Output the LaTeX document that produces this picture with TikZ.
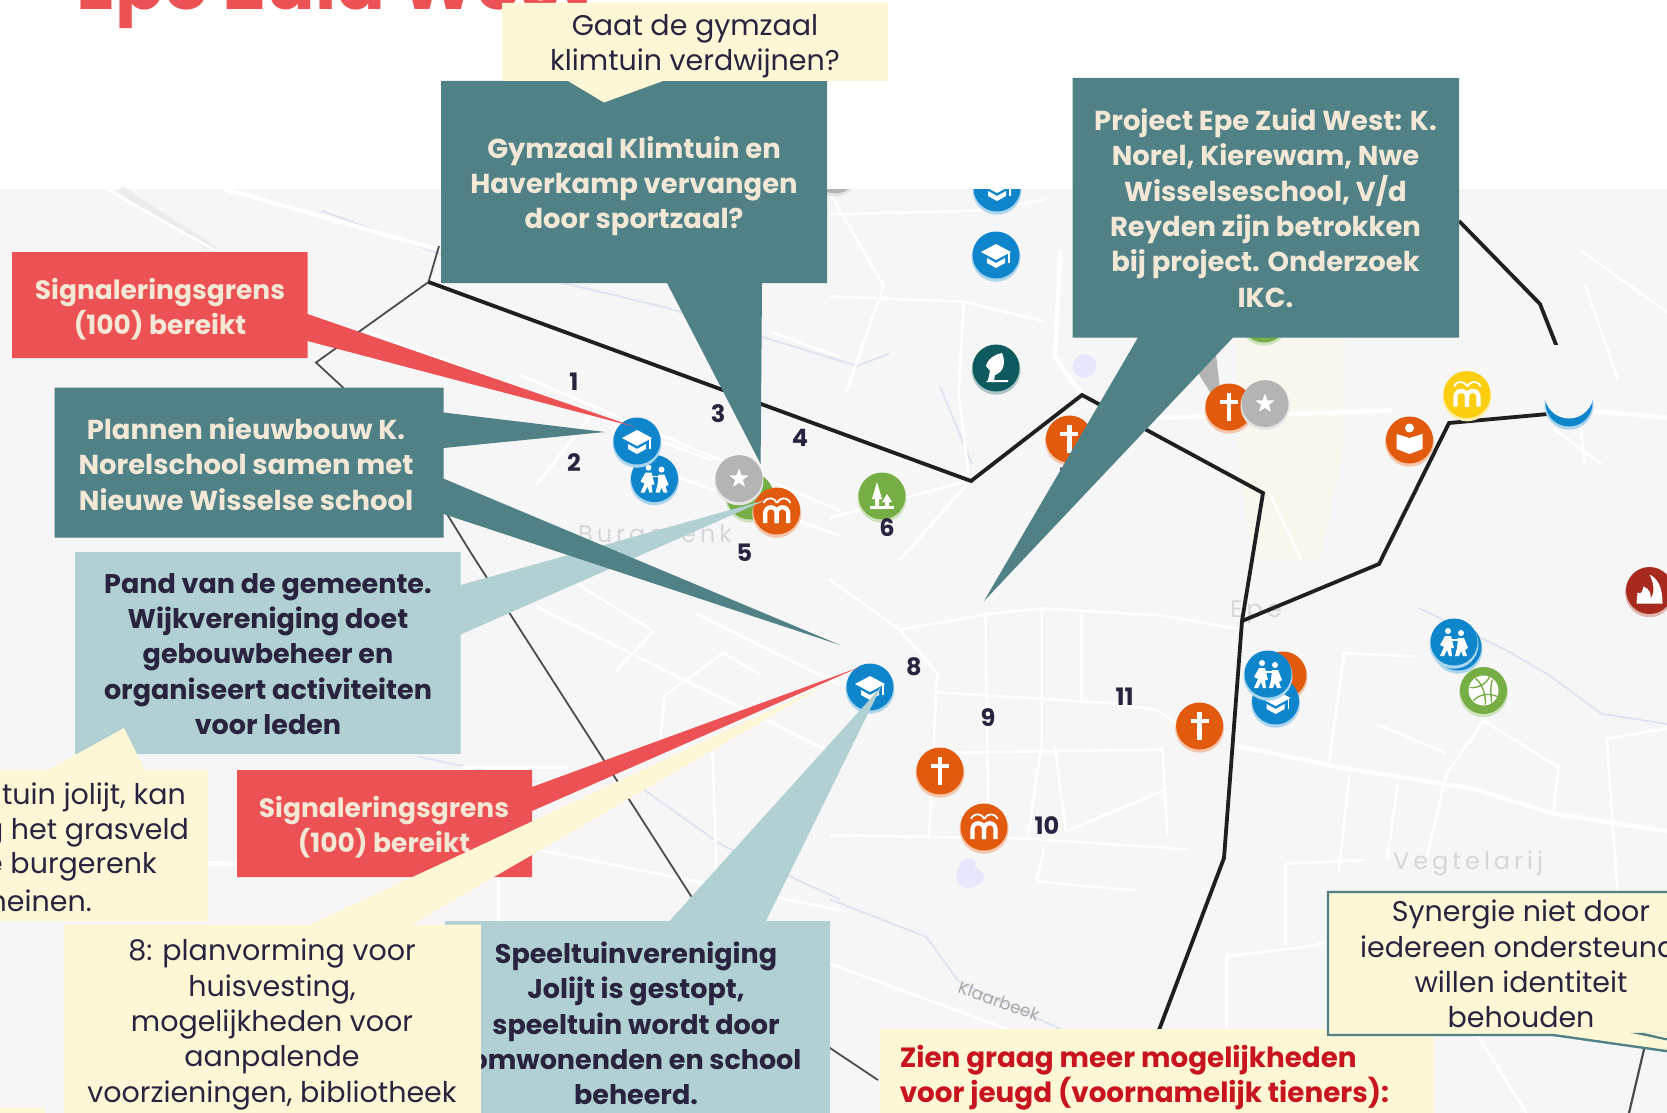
\documentclass[tikz,border=0pt]{standalone}
\usepackage{fontspec}
\setmainfont{Poppins}
\usetikzlibrary{shapes.geometric}
\definecolor{teal}{HTML}{4F8187}
\definecolor{ltteal}{HTML}{B1D0D3}
\definecolor{redbox}{HTML}{EC5254}
\definecolor{ylw}{HTML}{FDF7D6}
\definecolor{ink}{HTML}{2A2340}
\definecolor{cream}{HTML}{F3E8D6}
\definecolor{mapbg}{HTML}{F6F6F6}
\definecolor{icblue}{HTML}{0F85CC}
\definecolor{icorange}{HTML}{E25A0E}
\definecolor{icgray}{HTML}{B4B4B4}
\definecolor{icgreen}{HTML}{76AE45}
\definecolor{icdark}{HTML}{0F5A5E}
\definecolor{icyellow}{HTML}{FBCF10}
\definecolor{icred}{HTML}{A82A1E}
\definecolor{wat}{HTML}{DDE3F2}
\tikzset{
 Za/.style={shift={(0,0)},x=0.5357pt,y=-0.3571pt},
 Zb/.style={shift={(830,0)},x=0.5357pt,y=-0.3571pt},
 Zc/.style={shift={(0,553)},x=0.5357pt,y=-0.3571pt},
 Zd/.style={shift={(830,553)},x=0.5357pt,y=-0.3571pt},
 road/.style={draw=white,line width=2.6pt,line join=round},
 bigroad/.style={draw=white,line width=4.5pt,line join=round},
 water/.style={draw=wat,line width=1.8pt,line join=round},
 border/.style={draw=black!88,line width=3.8pt,line join=miter},
 thinb/.style={draw=black!70,line width=1.8pt,line join=miter},
 tealtxt/.style={text=cream,font=\fontsize{27.4}{35.3}\selectfont\bfseries,align=center,inner sep=0pt},
 redtxt/.style={text=cream,font=\fontsize{26.5}{35.3}\selectfont\bfseries,align=center,inner sep=0pt},
 darktxt/.style={text=ink,font=\fontsize{27}{35.3}\selectfont\bfseries,align=center,inner sep=0pt},
 plaintxt/.style={text=ink,font=\fontsize{28.5}{35.3}\selectfont,align=center,inner sep=0pt},
 num/.style={text=ink,font=\fontsize{24}{28}\selectfont\bfseries,inner sep=0pt},
 maplbl/.style={text=black!16,font=\fontsize{24}{28}\selectfont,inner sep=0pt},
}
\newcommand{\disc}[4]{% name,color,x,y
 \fill[#2!35!white] (#3,#4+2.2) circle (24.5);
 \node[circle,fill=#2,minimum size=47pt,inner sep=0pt,draw=none] (#1) at (#3,#4) {};}
\newcommand{\gcross}[2]{\begin{scope}[shift={(#1,#2)}]
 \fill[white] (-2.4,-14)rectangle(2.4,14); \fill[white] (-9,-7)rectangle(9,-2.6);\end{scope}}
\newcommand{\gstar}[2]{\node[star,star points=5,star point ratio=2.4,fill=white,minimum size=20pt,inner sep=0pt] at (#1,#2) {};}
\newcommand{\gcap}[2]{\begin{scope}[shift={(#1,#2)}]
 \fill[white] (-15,-3)--(0,-11)--(15,-3)--(0,5)--cycle;
 \fill[white] (-9,3)--(0,8)--(9,3)--(9,8)--(0,13)--(-9,8)--cycle;
 \draw[white,line width=1.2pt] (13,-2)--(13,8);\end{scope}}
\newcommand{\gkids}[2]{\begin{scope}[shift={(#1,#2)}]
 \fill[white] (-6,-11) circle (3) (7,-9) circle (3);
 \fill[white] (-9,-6)--(-3,-6)--(0,6)--(-3,6)--(-2,14)--(-5,14)--(-7,8)--(-10,14)--(-14,14)--(-10,5)--(-14,3)--cycle;
 \fill[white] (4,-4)--(10,-4)--(14,6)--(11,8)--(13,14)--(9,14)--(7,9)--(5,14)--(1,14)--(3,6)--cycle;
 \draw[white,line width=1.6pt] (-3,-2)--(4,-2);\end{scope}}
\newcommand{\gm}[2]{\begin{scope}[shift={(#1,#2)}]
 \draw[white,line width=4.2pt] (-11.5,12)--(-11.5,2) arc (180:360:5.75)--(0,12);
 \draw[white,line width=4.2pt] (0,12)--(0,2) arc (180:360:5.75)--(11.5,12);
 \draw[white,line width=1.8pt] (-13,-8) arc (200:340:7) (0.5,-8) arc (200:340:7);\end{scope}}
\newcommand{\gtree}[2]{\begin{scope}[shift={(#1,#2)}]
 \fill[white] (-5,-14)--(0,3)--(-3,3)--(-3,10)--(-7,10)--(-7,3)--(-10,3)--cycle;
 \fill[white] (5,-2)--(10,6)--(7,6)--(7,10)--(3,10)--(3,6)--(0,6)--cycle;
 \fill[white] (-12,10)rectangle(12,13);\end{scope}}
\newcommand{\gbook}[2]{\begin{scope}[shift={(#1,#2)}]
 \fill[white] (0,-12) circle (4.5);
 \fill[white] (-13,-6)--(0,-2)--(13,-6)--(13,9)--(0,14)--(-13,9)--cycle;\end{scope}}
\newcommand{\gball}[2]{\begin{scope}[shift={(#1,#2)}]
 \fill[white] (0,0) circle (15);
 \draw[icgreen,line width=1.4pt] (-14,-3) .. controls (-4,-2) and (4,-8) .. (6,-14) (-10,10) .. controls (-4,4) and (4,2) .. (14,6) (2,14) .. controls (2,6) and (0,-6) .. (-8,-12) (9,-11) .. controls (6,-2) and (8,6) .. (8,12);\end{scope}}
\newcommand{\gflame}[2]{\begin{scope}[shift={(#1,#2)}]
 \fill[white] (-13,13)--(-12,2).. controls (-8,5) and (-7,0) ..(-6,-4) .. controls (0,-2) and (2,4) .. (1,8) .. controls (6,2) and (4,-8) .. (0,-16) .. controls (8,-12) and (13,-4) .. (13,13) --cycle;\end{scope}}
\newcommand{\gleaf}[2]{\begin{scope}[shift={(#1,#2)}]
 \fill[white] (-8,12)--(-6,3)--(-10,-2)..controls (-8,-10) and (0,-14) .. (6,-15) .. controls (10,-6) and (8,4) .. (-1,7) -- (-2,12)--(12,12)--(12,14)--(-10,14)--cycle;\end{scope}}
\begin{document}
\begin{tikzpicture}[x=1pt,y=-1pt]
\useasboundingbox (0,0) rectangle (1667,1113);
\begin{scope}
\clip (0,0) rectangle (1667,1113);
\fill[white] (0,0) rectangle (1667,1113);
\fill[mapbg] (0,189) rectangle (1667,1113);
% title
\node[anchor=base west,text=redbox,font=\fontsize{72}{72}\selectfont\bfseries,inner sep=0pt] (title) at (76,10) {Epe Zuid West};
% beige centre of town
\fill[ylw!28!mapbg] (1235,340) -- (1345,340) -- (1345,440) -- (1320,560) -- (1255,560) -- (1240,480) -- cycle;
% water
\begin{scope}[Za]
\draw[water] (600,590)--(820,710)--(1240,860)--(1568,1010);
\end{scope}
\begin{scope}[Zb]
\draw[water] (0,1000)--(50,1025)--(110,990);
\draw[water] (205,1080)--(265,1300);
\fill[wat!70!blue!25!white] (475,1025) ellipse (22 and 33);
\end{scope}
\begin{scope}[Zc]
\draw[water] (780,570)--(1000,640);
\draw[water] (1180,640)--(1350,820)--(1568,970);
\end{scope}
\begin{scope}[Zd]
\draw[water] (1100,155)--(1260,270)--(1340,340)--(1440,450)--(1568,480);
\draw[water] (0,970)--(180,1075)--(240,1200)--(430,1333);
\fill[wat!70!blue!25!white] (240,880) .. controls (250,840) and (280,850) .. (270,880) .. controls (300,900) and (290,930) .. (255,940) .. controls (230,930) and (235,900) .. (240,880) -- cycle;
\end{scope}
% rail band
\draw[black!8,line width=7pt] (120,189)--(215,250);
% roads
\begin{scope}[Za]
\draw[bigroad] (420,530)--(820,700);
\draw[road] (200,530)--(400,700);
\draw[road] (670,920)--(1330,1290);
\draw[road] (590,1000)--(640,1090);
\draw[road] (970,1050)--(1568,1430);
\draw[road] (1100,1170)--(1000,1360);
\draw[road] (1180,1290)--(1568,1500);
\draw[road] (900,1400)--(1060,1500);
\draw[road] (1440,930)--(1568,1000);
\end{scope}
\begin{scope}[Zb]
\draw[road] (0,600)--(270,590)--(400,560);
\draw[road] (0,830)--(250,845)--(400,900);
\draw[road] (250,845)--(240,1100)--(260,1350);
\draw[bigroad] (430,700)--(420,1000)--(470,1105);
\draw[bigroad] (600,1170)--(1050,1150);
\draw[road] (1400,700)--(1568,880);
\draw[bigroad] (1420,1150)--(1568,1170);
\draw[road] (1410,800)--(1470,1060);
\draw[road] (1350,1200)--(1440,1300);
\draw[road] (880,1568)--(820,1380);
\draw[road] (1400,1190)--(1410,1300);
\draw[road] (0,1450)--(250,1350);
\draw[road] (260,1350)--(130,1568);
\draw[road] (0,540)--(100,800)--(30,1100);
\end{scope}
\begin{scope}[Zc]
\draw[road] (1000,150)--(1568,570);
\draw[road] (1060,70)--(1220,220)--(1150,330);
\draw[road] (1300,170)--(1568,370);
\draw[road] (1240,400)--(1350,280)--(1420,340);
\draw[road] (1240,400)--(1230,570);
\draw[road] (1330,560)--(1340,1000);
\draw[road] (1000,830)--(1568,1000);
\draw[road] (930,900)--(930,1030);
\draw[bigroad] (0,860)--(440,870);
\draw[road] (860,600)--(1060,600);
\end{scope}
\begin{scope}[Zd]
\draw[road] (0,75)--(130,215)--(205,345);
\draw[road] (200,390)--(520,420)--(610,440)--(650,480);
\draw[road] (130,215)--(300,170)--(395,155)--(620,175)--(770,215);
\draw[road] (395,155)--(395,530)--(370,790);
\draw[road] (290,165)--(295,700);
\draw[road] (470,170)--(470,420);
\draw[road] (200,340)--(185,790);
\draw[bigroad] (760,540)--(950,600)--(1200,660)--(1350,730)--(1568,780);
\draw[road] (960,280)--(930,600);
\draw[road] (960,280)--(1090,290);
\draw[road] (1220,470)--(1150,620)--(1110,880);
\draw[road] (1220,470)--(1360,600)--(1350,730);
\draw[road] (1020,480)--(1150,560);
\draw[road] (0,790)--(370,800)--(670,830);
\draw[road] (400,830)--(385,920)--(570,945);
\draw[road] (0,1150)--(180,1250)--(330,1333);
\draw[road] (970,620)--(950,890);
\draw[road] (1060,640)--(1040,860);
\draw[road] (850,870)--(1000,860);
\draw[road] (850,870)--(850,1100);
\draw[road] (740,1130)--(900,1100)--(1000,1060);
\draw[road] (740,1130)--(740,1333);
\draw[road] (1100,1050)--(930,1060);
\draw[road] (1450,520)--(1568,490);
\draw[road] (1450,520)--(1470,950);
\draw[road] (620,540)--(630,790);
\draw[road] (200,560)--(620,550);
\draw[road] (420,540)--(440,780)--(630,660);
\draw[road] (1200,1330)--(1300,1568);
\end{scope}
% map labels
\node[maplbl] (lbura) at (655,537) {B\,u\,r\,g\,e\,r\,e\,n\,k};
\node[maplbl] (lbepe) at (1256,612) {E\,p\,e};
\node[maplbl] (lbveg) at (1468,864) {V\,e\,g\,t\,e\,l\,a\,r\,i\,j};
\node[text=black!35,font=\fontsize{17}{20}\selectfont,rotate=-20,inner sep=0pt] (lbkla) at (999,1001) {Klaarbeek};
% boundaries
\coordinate (b0) at (439,246); \coordinate (b1) at (428.5,282); \coordinate (b2) at (316,362.5); \coordinate (b3) at (343,387.5);
\coordinate (b4) at (447,514); \coordinate (b5) at (471,553); \coordinate (b6) at (691,896); \coordinate (b7) at (830,1048); \coordinate (b8) at (878,1080);
\draw[thinb] (b0)--(b1)--(b2)--(b3)--(b4)--(b5)--(b6)--(b7)--(b8);
\coordinate (k1) at (971,481); \coordinate (k2) at (1082,395); \coordinate (k3) at (1263,493); \coordinate (k4) at (1242,621); \coordinate (k5) at (1224,858); \coordinate (k6) at (1159,1030);
\coordinate (m1) at (1379,564); \coordinate (m2) at (1449,423); \coordinate (m3) at (1548,414);
\coordinate (n1) at (1459,221); \coordinate (n2) at (1540,304); \coordinate (n3) at (1559.5,353.5);
\draw[border] (b1)--(k1)--(k2)--(k3)--(k4)--(k5)--(k6);
\draw[border] (k4)--(m1)--(m2)--(m3);
\draw[border] (n1)--(n2)--(n3);
\draw[thinb,line width=2.2pt] (1645,1045)--(1629,1113);
% icons clipped by the map top
\begin{scope}
\clip (0,189) rectangle (1667,1113);
\disc{ia}{icgray}{835}{170}
\disc{ib}{icblue}{997}{188}
\gcap{997}{188}
\disc{ic}{icblue}{996}{255}
\gcap{996}{255}
\disc{id}{icdark}{996}{368}
\gleaf{996}{368}
\disc{ie}{icgreen}{1264}{319}
\fill[icgray] (1190,360)--(1215,345)--(1220,390)--(1235,415)--(1215,400)--cycle;
\disc{if}{icorange}{1069.4}{439}
\gcross{1069.4}{439}
\disc{ig}{icorange}{1229}{407}
\gcross{1229}{407}
\disc{ih}{icgray}{1265}{403.6}
\gstar{1265}{403.6}
\disc{ii}{icyellow}{1467}{394.6}
\gm{1467}{394.6}
\disc{ij}{icorange}{1409.5}{440}
\gbook{1409.5}{440}
\disc{ik}{icblue}{1569}{403}
\fill[mapbg] (1569,394) circle (24.5);
\fill[mapbg] (1540,345) rectangle (1600,394);
\disc{il}{icblue}{654.5}{478.6}
\gkids{654.5}{478.6}
\disc{im}{icblue}{637}{441}
\gcap{637}{441}
\disc{in}{icgreen}{750}{496}
\disc{io}{icgray}{739}{478.6}
\gstar{739}{478.6}
\disc{ip}{icorange}{776.7}{511}
\gm{776.7}{511}
\disc{iq}{icgreen}{882}{496}
\gtree{882}{496}
\disc{ir}{icred}{1649.5}{590.5}
\gflame{1649.5}{590.5}
\disc{is}{icblue}{1458}{647}
\disc{it}{icblue}{1454}{642}
\gkids{1454}{642}
\disc{iu}{icgreen}{1483.5}{690.5}
\gball{1483.5}{690.5}
\disc{iv}{icorange}{1283}{675}
\disc{iw}{icblue}{1275.6}{701}
\gcap{1275.6}{701}
\disc{ix}{icblue}{1268}{674}
\gkids{1268}{674}
\disc{iy}{icorange}{1199.6}{726}
\gcross{1199.6}{726}
\disc{iz}{icblue}{870}{687}
\gcap{870}{687}
\disc{iaa}{icorange}{940}{771}
\gcross{940}{771}
\disc{iab}{icorange}{984}{827}
\gm{984}{827}
\end{scope}
% numbers
\node[num] (n01) at (574,381.4) {1};
\node[num] (n02) at (574,463) {2};
\node[num] (n03) at (718,413.6) {3};
\node[num] (n04) at (800,437.5) {4};
\node[num] (n05) at (744.5,553) {5};
\node[num] (n06) at (887,528) {6};
\node[num] (n07) at (1066,477) {7};
\node[num] (n08) at (914,666.6) {8};
\node[num] (n09) at (988,718) {9};
\node[num] (n10) at (1047,825.5) {10};
\node[num] (n11) at (1124.6,696.6) {11};
% --- call-outs
% top teal
\fill[teal] (441,81)--(827,81)--(827,283)--(762,283)--(760.6,464)--(667,283)--(441,283)--cycle;
\node[tealtxt] (t1) at (634,186) {Gymzaal Klimtuin en\\Haverkamp vervangen\\door sportzaal?};
% yellow top
\fill[ylw] (502,3)--(888,3)--(888,81)--(663,81)--(604,102.5)--(568,81)--(502,81)--cycle;
\node[plaintxt] (t2) at (695,46) {Gaat de gymzaal\\klimtuin verdwijnen?};
% project
\fill[teal] (1072.6,78)--(1459,78)--(1459,337.5)--(1233,337.5)--(984,601)--(1138,337.5)--(1072.6,337.5)--cycle;
\node[tealtxt] (t3) at (1265.5,208) {Project Epe Zuid West: K.\\Norel, Kierewam, Nwe\\Wisselseschool, V/d\\Reyden zijn betrokken\\bij project. Onderzoek\\IKC.};
% red 1
\fill[redbox] (12,252)--(307.5,252)--(307.5,314)--(635,427)--(307.5,341)--(307.5,358)--(12,358)--cycle;
\node[redtxt] (t4) at (160,309) {Signaleringsgrens\\(100) bereikt};
% light teal 1
\fill[ltteal] (75,552)--(460.6,552)--(460.6,585)--(766,500)--(460.6,634.5)--(460.6,754)--(75,754)--cycle;
\node[darktxt] (t5) at (268,654) {Pand van de gemeente.\\Wijkvereniging doet\\gebouwbeheer en\\organiseert activiteiten\\voor leden};
% teal 2
\fill[teal] (54.6,387.5)--(443.5,387.5)--(443.5,412.5)--(605,432)--(443.5,448)--(443.5,478.6)--(840,645)--(443.5,514)--(443.5,537.5)--(54.6,537.5)--cycle;
\node[tealtxt] (t6) at (246,464) {Plannen nieuwbouw K.\\Norelschool samen met\\Nieuwe Wisselse school};
% red 2
\fill[redbox] (237,770)--(532,770)--(532,787)--(860,667)--(532,811)--(532,877)--(237,877)--cycle;
\node[redtxt] (t7) at (384,827) {Signaleringsgrens\\(100) bereikt};
% light teal 2
\fill[ltteal] (445,921)--(669.5,921)--(881,687)--(766,921)--(830,921)--(830,1113)--(445,1113)--cycle;
\node[darktxt] (t8) at (636,1023.5) {Speeltuinvereniging\\Jolijt is gestopt,\\speeltuin wordt door\\omwonenden en school\\beheerd.};
% yellow left
\fill[ylw] (-5,770)--(48,770)--(124,728)--(145,770)--(208,770)--(208,921)--(-5,921)--cycle;
\node[plaintxt,anchor=east] (t9a) at (186,797) {ltuin jolijt, kan};
\node[plaintxt,anchor=east] (t9b) at (189,833) {g het grasveld};
\node[plaintxt,anchor=east] (t9c) at (157,867) {e burgerenk};
\node[plaintxt,anchor=east] (t9d) at (92,901) {heinen.};
% yellow 8
\fill[ylw] (64,924.5)--(310.6,924.5)--(825,685)--(412,924.5)--(481,924.5)--(481,1113)--(64,1113)--cycle;
\node[plaintxt] (t10) at (272,1024.5) {8: planvorming voor\\huisvesting,\\mogelijkheden voor\\aanpalende\\voorzieningen, bibliotheek};
\fill[ylw] (0,1108) rectangle (45,1113);
% Zien
\fill[ylw] (880,1029) rectangle (1434,1113);
\node[anchor=west,text={rgb,255:red,200;green,20;blue,30},font=\fontsize{27.8}{35}\selectfont\bfseries,align=left,inner sep=0pt] (t11) at (899.6,1077.5) {Zien graag meer mogelijkheden\\voor jeugd (voornamelijk tieners):};
% synergie
\draw[teal,line width=2.4pt,fill=ylw] (1680,892)--(1328,892)--(1328,1035)--(1553,1035)--(1680,1053)--(1680,1042)--(1642,1034)--(1680,1034);
\fill[ylw] (1642,1032.5) -- (1680,1041) -- (1680,1032.5) -- cycle;
\node[plaintxt] (t12) at (1521,964) {Synergie niet door\\iedereen ondersteund,\\willen identiteit\\behouden};
\end{scope}
\end{tikzpicture}
\end{document}
